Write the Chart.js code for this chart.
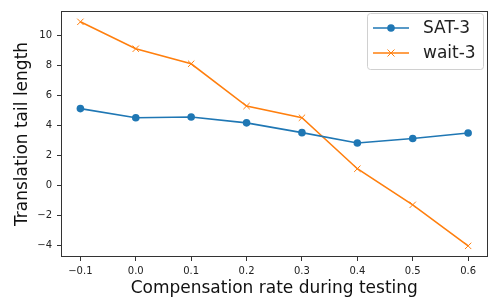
<!DOCTYPE html>
<html><head><meta charset="utf-8">
<script src="https://cdn.jsdelivr.net/npm/chart.js@4.4.1/dist/chart.umd.min.js"></script>
<style>html,body{margin:0;padding:0;background:#fff}canvas{display:block}</style>
</head><body>
<canvas id="c" width="493" height="302"></canvas>
<script>
const rates = [-0.1, 0.0, 0.1, 0.2, 0.3, 0.4, 0.5, 0.6];
const sat3 = [5.11, 4.5, 4.55, 4.16, 3.51, 2.82, 3.12, 3.49];
const wait3 = [10.88, 9.09, 8.09, 5.28, 4.5, 1.11, -1.29, -4.02];
const xTickValues = [-0.1, 0.0, 0.1, 0.2, 0.3, 0.4, 0.5, 0.6];
const xTickLabels = ['\u22120.1', '0.0', '0.1', '0.2', '0.3', '0.4', '0.5', '0.6'];
const yTickValues = [-4, -2, 0, 2, 4, 6, 8, 10];
const yTickLabels = ['\u22124', '\u22122', '0', '2', '4', '6', '8', '10'];
const seriesNames = ['SAT-3', 'wait-3'];

const FONT = 'DejaVu Sans';
const BLUE = '#1f77b4', ORANGE = '#ff7f0e';

const frame = {
  id: 'frame',
  afterDatasetsDraw(chart) {
    const {ctx, chartArea: a} = chart;
    ctx.save();
    ctx.strokeStyle = '#333';
    ctx.lineWidth = 1;
    ctx.strokeRect(Math.round(a.left) + 0.5, Math.round(a.top) + 0.5, Math.round(a.right - a.left) - 1, Math.round(a.bottom - a.top) - 1);
    ctx.restore();
  }
};

const legendBox = {
  id: 'legendBox',
  afterDraw(chart) {
    const ctx = chart.ctx;
    const x0 = 367, y0 = 13, w = 116, h = 56, r = 3;
    ctx.save();
    ctx.beginPath();
    ctx.roundRect(x0 + 0.5, y0 + 0.5, w, h, r);
    ctx.fillStyle = 'rgba(255,255,255,0.8)';
    ctx.fill();
    ctx.strokeStyle = '#d0d0d0';
    ctx.lineWidth = 1;
    ctx.stroke();
    const rows = [28, 53];
    chart.data.datasets.forEach((ds, i) => {
      const y = rows[i];
      ctx.strokeStyle = ds.borderColor;
      ctx.lineWidth = 1.6;
      ctx.beginPath(); ctx.moveTo(373, y); ctx.lineTo(409, y); ctx.stroke();
      if (ds.pointStyle === 'circle') {
        ctx.fillStyle = ds.borderColor;
        ctx.beginPath(); ctx.arc(391, y, 3.8, 0, Math.PI * 2); ctx.fill();
      } else {
        ctx.lineWidth = 1;
        ctx.beginPath();
        ctx.moveTo(387.5, y - 3.5); ctx.lineTo(394.5, y + 3.5);
        ctx.moveTo(394.5, y - 3.5); ctx.lineTo(387.5, y + 3.5);
        ctx.stroke();
      }
      ctx.fillStyle = '#222';
      ctx.font = '17px "' + FONT + '"';
      ctx.textBaseline = 'middle';
      ctx.textAlign = 'left';
      ctx.fillText(ds.label, 423, y + 0.5);
    });
    ctx.restore();
  }
};

new Chart(document.getElementById('c'), {
  type: 'line',
  data: {
    datasets: [
      {
        label: seriesNames[0],
        data: rates.map((x, i) => ({x, y: sat3[i]})),
        borderColor: BLUE, backgroundColor: BLUE,
        borderWidth: 1.6, pointStyle: 'circle', pointRadius: 3.8,
        pointBorderWidth: 0, pointBackgroundColor: BLUE, tension: 0
      },
      {
        label: seriesNames[1],
        data: rates.map((x, i) => ({x, y: wait3[i]})),
        borderColor: ORANGE, backgroundColor: ORANGE,
        borderWidth: 1.6, pointStyle: 'crossRot', pointRadius: 4.5,
        pointBorderWidth: 1, pointBorderColor: ORANGE, tension: 0
      }
    ]
  },
  options: {
    responsive: false,
    animation: false,
    devicePixelRatio: 1,
    layout: {padding: {left: 0, right: 1, top: 5, bottom: 0}},
    plugins: {legend: {display: false}, tooltip: {enabled: false}},
    scales: {
      x: {
        type: 'linear', min: -0.135, max: 0.635,
        afterFit(s) { s.height = 45; },
        afterBuildTicks(s) { s.ticks = xTickValues.map(v => ({value: v})); },
        grid: {display: true, drawOnChartArea: false, drawTicks: true, tickLength: 4, color: '#333', tickWidth: 1},
        border: {display: false},
        ticks: {
          color: '#222', font: {family: FONT, size: 10}, padding: 4, maxRotation: 0,
          callback(v) { const i = xTickValues.findIndex(t => Math.abs(t - v) < 1e-6); return i >= 0 ? xTickLabels[i] : ''; }
        },
        title: {display: true, text: 'Compensation rate during testing', color: '#111',
          font: {family: FONT, size: 17}, padding: {top: 0, bottom: 3}}
      },
      y: {
        type: 'linear', min: -4.76, max: 11.6,
        afterFit(s) { s.width = 61; },
        afterBuildTicks(s) { s.ticks = yTickValues.map(v => ({value: v})); },
        grid: {display: true, drawOnChartArea: false, drawTicks: true, tickLength: 4, color: '#333', tickWidth: 1},
        border: {display: false},
        ticks: {
          color: '#222', font: {family: FONT, size: 10}, padding: 5,
          callback(v) { const i = yTickValues.findIndex(t => Math.abs(t - v) < 1e-6); return i >= 0 ? yTickLabels[i] : ''; }
        },
        title: {display: true, text: 'Translation tail length', color: '#111',
          font: {family: FONT, size: 17}, padding: {top: 12, bottom: 0}}
      }
    }
  },
  plugins: [frame, legendBox]
});
</script>
</body></html>
